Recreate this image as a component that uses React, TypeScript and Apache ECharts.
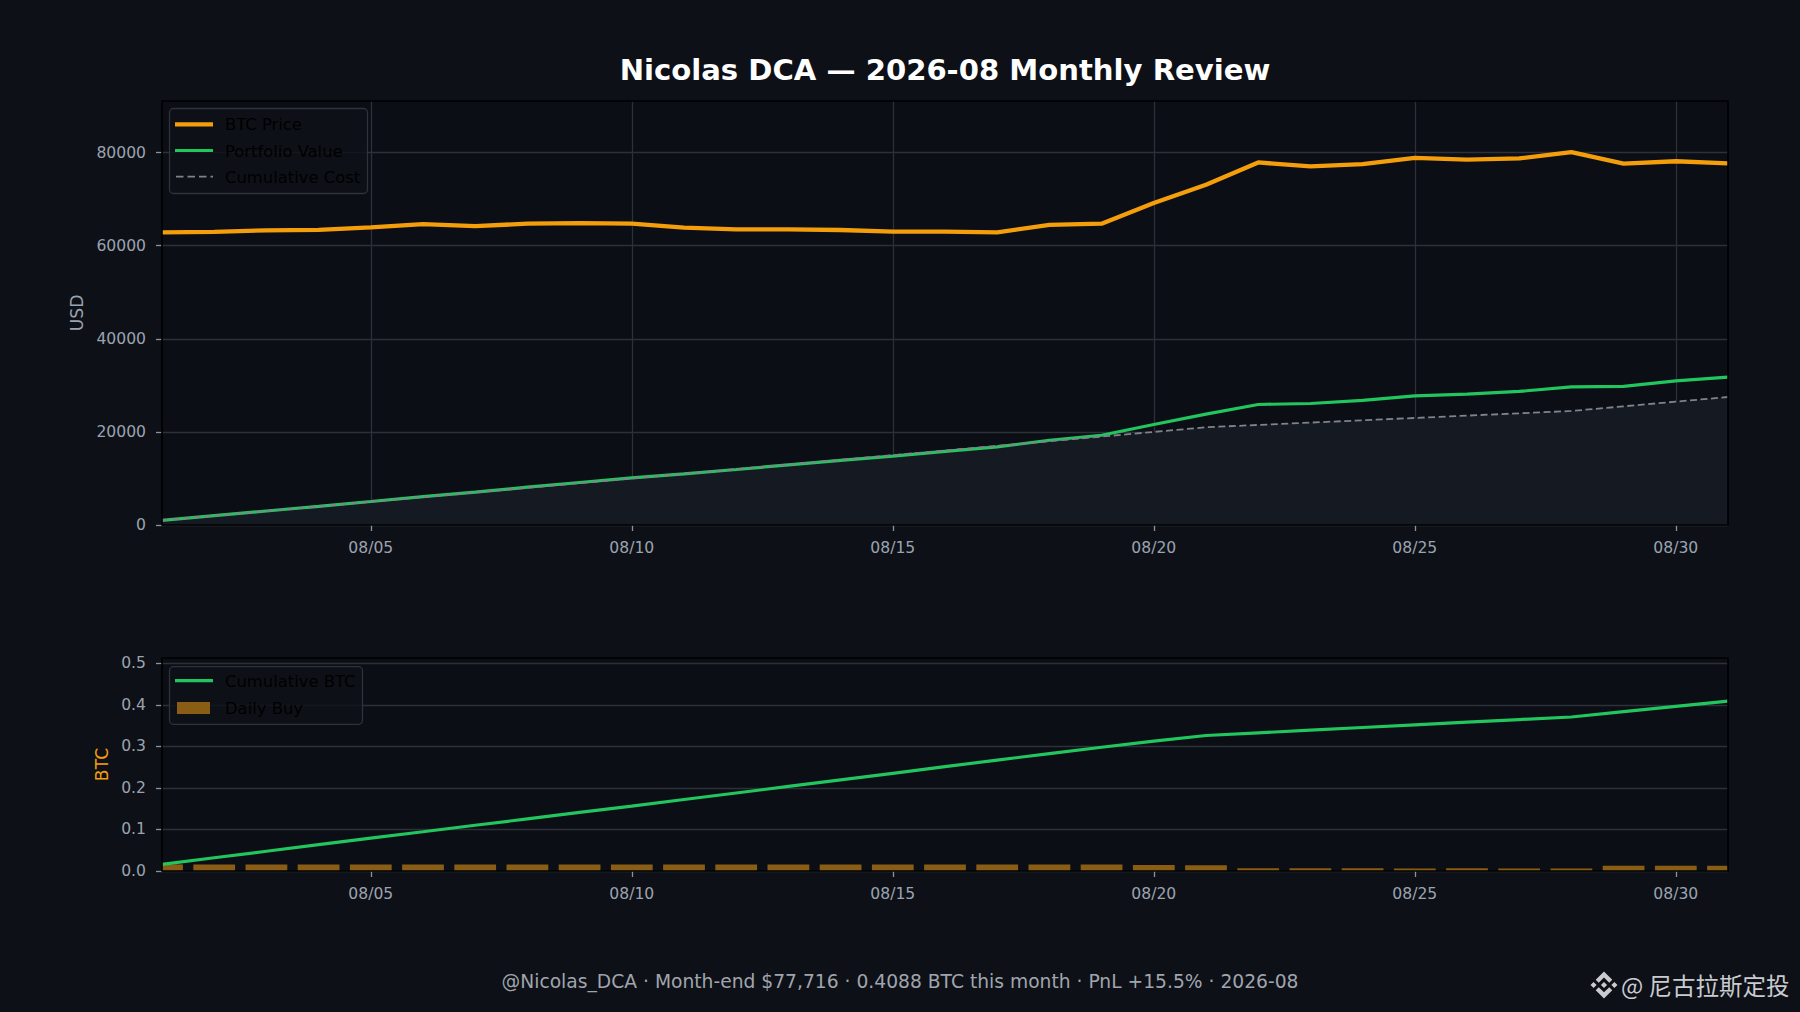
import React, { useEffect, useRef } from "react";
import * as echarts from "echarts";

const dates = [
  "08/01", "08/02", "08/03", "08/04", "08/05", "08/06", "08/07", "08/08", "08/09", "08/10",
  "08/11", "08/12", "08/13", "08/14", "08/15", "08/16", "08/17", "08/18", "08/19", "08/20",
  "08/21", "08/22", "08/23", "08/24", "08/25", "08/26", "08/27", "08/28", "08/29", "08/30", "08/31",
];
const xTickLabels = ["08/05", "08/10", "08/15", "08/20", "08/25", "08/30"];

const btcPrice = [
  62870, 63000, 63300, 63430, 63950, 64650, 64230, 64740, 64860, 64740,
  63880, 63510, 63510, 63380, 63020, 63020, 62890, 64490, 64740, 69170,
  73100, 77900, 77050, 77540, 78900, 78520, 78770, 80120, 77660, 78150, 77716,
];
const portfolioValue = [
  1000, 2002, 3012, 4018, 5054, 6105, 7067, 8121, 9136, 10120,
  10985, 11921, 12921, 13895, 14816, 15816, 16783, 18210, 19281, 21600,
  23828, 25892, 26110, 26776, 27745, 28112, 28701, 29693, 29776, 30963, 31770,
];
const cumulativeCost = [
  1000, 2000, 3000, 4000, 5000, 6000, 7000, 8000, 9000, 10000,
  11000, 12000, 13000, 14000, 15000, 16000, 17000, 18000, 19000, 20000,
  21000, 21500, 22000, 22500, 23000, 23500, 24000, 24500, 25500, 26500, 27500,
];
const cumulativeBtc = [
  0.0159, 0.0318, 0.0476, 0.0633, 0.079, 0.0944, 0.11, 0.1254, 0.1409, 0.1563,
  0.172, 0.1877, 0.2035, 0.2192, 0.2351, 0.251, 0.2669, 0.2824, 0.2978, 0.3123,
  0.326, 0.3324, 0.3389, 0.3453, 0.3517, 0.358, 0.3644, 0.3706, 0.3834, 0.3962, 0.4088,
];
const dailyBuy = [
  0.0159, 0.0159, 0.0158, 0.0158, 0.0156, 0.0155, 0.0156, 0.0154, 0.0154, 0.0154,
  0.0157, 0.0157, 0.0157, 0.0158, 0.0159, 0.0159, 0.0159, 0.0155, 0.0154, 0.0145,
  0.0137, 0.0064, 0.0065, 0.0064, 0.0063, 0.0064, 0.0063, 0.0062, 0.0128, 0.0128, 0.0126,
];
const usdTicks = [0, 20000, 40000, 60000, 80000];
const btcTicks = [0, 0.1, 0.2, 0.3, 0.4, 0.5];

const TITLE = "Nicolas DCA — 2026-08 Monthly Review";
const FOOTER = "@Nicolas_DCA · Month-end $77,716 · 0.4088 BTC this month · PnL +15.5% · 2026-08";
const WATERMARK = "@ 尼古拉斯定投";

const LOGO_D =
  "M38.73 53.2 L63.3 28.64 L87.89 53.22 L102.19 38.92 L63.3 0 L24.43 38.9 Z " +
  "M0 63.31 L14.3 49 L28.6 63.3 L14.3 77.61 Z " +
  "M38.73 73.41 L63.3 98 L87.89 73.4 L102.19 87.69 L63.3 126.61 L24.42 87.73 Z " +
  "M98 63.31 L112.3 49 L126.6 63.3 L112.3 77.61 Z " +
  "M77.83 63.3 L63.3 48.76 L48.78 63.27 L63.3 77.83 Z";
echarts.graphic.registerShape("binanceLogo", echarts.graphic.extendPath(LOGO_D, {}));

const FONT = "DejaVu Sans";
const FIG_BG = "#0d1017";
const PLOT_BG = "#0b0e15";
const GRID_C = "#2c3038";
const TICK_C = "#8e939b";
const LABEL_C = "#9ca3af";
const ORANGE = "#f59e0b";
const GREEN = "#22c55e";
const GRAY = "#7f838b";
const BAR_C = "#8a5d14";

const G1 = { left: 162, top: 101, width: 1566, height: 424 };
const G2 = { left: 162, top: 658, width: 1566, height: 213 };

const isTick = (_i: number, v: string) => xTickLabels.indexOf(v) >= 0;

function xAxis(gridIndex: number, vSplit: boolean) {
  return {
    type: "category",
    gridIndex,
    data: dates,
    boundaryGap: false,
    axisLine: { show: false },
    axisTick: { show: true, interval: isTick, length: 6, lineStyle: { color: TICK_C, width: 1.3 } },
    axisLabel: {
      interval: isTick,
      color: LABEL_C,
      fontSize: 15.6,
      fontFamily: FONT,
      margin: 15,
    },
    splitLine: { show: vSplit, interval: isTick, lineStyle: { color: GRID_C, width: 1.3 } },
  };
}

function renderBar(params: any, api: any) {
  const idx = api.value(0);
  const v = api.value(1);
  const top = api.coord([idx, v]);
  const base = api.coord([idx, 0]);
  const bw = api.size([1, 0])[0] * 0.8;
  const cs = params.coordSys;
  const rect = echarts.graphic.clipRectByRect(
    { x: top[0] - bw / 2, y: top[1], width: bw, height: base[1] - top[1] },
    { x: cs.x, y: cs.y, width: cs.width, height: cs.height }
  );
  if (!rect) return null;
  return { type: "rect", shape: rect, style: { fill: BAR_C } };
}

export default function App() {
  const ref = useRef<HTMLDivElement>(null);
  useEffect(() => {
    document.body.style.margin = "0";
    document.body.style.background = FIG_BG;
    const chart = echarts.init(ref.current!, undefined, { renderer: "svg" });
    const legendText = (x: number, y: number, text: string) => ({
      type: "text",
      z: 101,
      x,
      y,
      style: { text, fill: "#000000", fontSize: 16.4, fontFamily: FONT, textAlign: "left", textVerticalAlign: "middle", verticalAlign: "middle" },
    });
    const option: any = {
      animation: false,
      backgroundColor: FIG_BG,
      textStyle: { fontFamily: FONT },
      grid: [
        { ...G1, show: true, backgroundColor: PLOT_BG, borderWidth: 0 },
        { ...G2, show: true, backgroundColor: PLOT_BG, borderWidth: 0 },
      ],
      xAxis: [xAxis(0, true), xAxis(1, false)],
      yAxis: [
        {
          type: "value",
          gridIndex: 0,
          min: 0,
          max: 91100,
          interval: 20000,
          name: "USD",
          nameLocation: "middle",
          nameGap: 71,
          nameTextStyle: { color: LABEL_C, fontSize: 17.2, fontFamily: FONT },
          axisLine: { show: false },
          axisTick: { show: true, length: 6, customValues: usdTicks, lineStyle: { color: TICK_C, width: 1.3 } },
          axisLabel: {
            color: LABEL_C,
            fontSize: 15.6,
            fontFamily: FONT,
            margin: 16,
            customValues: usdTicks,
            formatter: (v: number) => String(Math.round(v)),
          },
          splitLine: { show: true, lineStyle: { color: GRID_C, width: 1.3 } },
        },
        {
          type: "value",
          gridIndex: 1,
          min: 0,
          max: 0.5125,
          interval: 0.1,
          name: "BTC",
          nameLocation: "middle",
          nameGap: 49,
          nameTextStyle: { color: ORANGE, fontSize: 17.2, fontFamily: FONT },
          axisLine: { show: false },
          axisTick: { show: true, length: 6, customValues: btcTicks, lineStyle: { color: TICK_C, width: 1.3 } },
          axisLabel: {
            color: LABEL_C,
            fontSize: 15.6,
            fontFamily: FONT,
            margin: 16,
            customValues: btcTicks,
            formatter: (v: number) => v.toFixed(1),
          },
          splitLine: { show: true, lineStyle: { color: GRID_C, width: 1.3 } },
        },
      ],
      series: [
        {
          name: "Cost Area",
          type: "line",
          xAxisIndex: 0,
          yAxisIndex: 0,
          data: cumulativeCost,
          showSymbol: false,
          silent: true,
          z: 1,
          lineStyle: { width: 0, opacity: 0 },
          areaStyle: { color: "#151922", opacity: 1 },
        },
        {
          name: "BTC Price",
          type: "line",
          xAxisIndex: 0,
          yAxisIndex: 0,
          data: btcPrice,
          showSymbol: false,
          silent: true,
          z: 3,
          lineStyle: { color: ORANGE, width: 4.3 },
        },
        {
          name: "Portfolio Value",
          type: "line",
          xAxisIndex: 0,
          yAxisIndex: 0,
          data: portfolioValue,
          showSymbol: false,
          silent: true,
          z: 3,
          lineStyle: { color: GREEN, width: 3.2 },
        },
        {
          name: "Cumulative Cost",
          type: "line",
          xAxisIndex: 0,
          yAxisIndex: 0,
          data: cumulativeCost,
          showSymbol: false,
          silent: true,
          z: 4,
          lineStyle: { color: GRAY, width: 1.8, type: [7, 3.5] },
        },
        {
          name: "Daily Buy",
          type: "custom",
          xAxisIndex: 1,
          yAxisIndex: 1,
          data: dailyBuy.map((v, i) => [i, v]),
          renderItem: renderBar,
          encode: { x: 0, y: 1 },
          silent: true,
          z: 2,
        },
        {
          name: "Cumulative BTC",
          type: "line",
          xAxisIndex: 1,
          yAxisIndex: 1,
          data: cumulativeBtc,
          showSymbol: false,
          silent: true,
          z: 3,
          lineStyle: { color: GREEN, width: 3.2 },
        },
      ],
      graphic: [
        { type: "rect", z: 50, silent: true, shape: { x: G1.left, y: G1.top, width: G1.width, height: G1.height }, style: { fill: "rgba(0,0,0,0)", stroke: "#000000", lineWidth: 1.6 } },
        { type: "rect", z: 50, silent: true, shape: { x: G2.left, y: G2.top, width: G2.width, height: G2.height }, style: { fill: "rgba(0,0,0,0)", stroke: "#000000", lineWidth: 1.6 } },
        { type: "rect", z: 100, silent: true, shape: { x: 169.5, y: 108.5, width: 198, height: 85, r: 4 }, style: { fill: "rgba(14,17,24,0.8)", stroke: "#2e323a", lineWidth: 1.3 } },
        { type: "line", z: 101, silent: true, shape: { x1: 175, y1: 124.3, x2: 213, y2: 124.3 }, style: { stroke: ORANGE, lineWidth: 4.3 } },
        legendText(225, 124.8, "BTC Price"),
        { type: "line", z: 101, silent: true, shape: { x1: 175, y1: 150.5, x2: 213, y2: 150.5 }, style: { stroke: GREEN, lineWidth: 3.2 } },
        legendText(225, 151, "Portfolio Value"),
        { type: "line", z: 101, silent: true, shape: { x1: 176, y1: 176.7, x2: 213, y2: 176.7 }, style: { stroke: GRAY, lineWidth: 1.8, lineDash: [7.5, 4] } },
        legendText(225, 177.2, "Cumulative Cost"),
        { type: "rect", z: 100, silent: true, shape: { x: 169.5, y: 666.7, width: 193, height: 57.6, r: 4 }, style: { fill: "rgba(14,17,24,0.8)", stroke: "#2e323a", lineWidth: 1.3 } },
        { type: "line", z: 101, silent: true, shape: { x1: 175, y1: 680.7, x2: 213, y2: 680.7 }, style: { stroke: GREEN, lineWidth: 3.2 } },
        legendText(225, 681.2, "Cumulative BTC"),
        { type: "rect", z: 101, silent: true, shape: { x: 177, y: 702, width: 33, height: 12 }, style: { fill: BAR_C } },
        legendText(225, 708.5, "Daily Buy"),
        {
          type: "text",
          z: 100,
          x: 945,
          y: 70,
          style: { text: TITLE, fill: "#ffffff", fontSize: 29.1, fontWeight: "bold", fontFamily: FONT, textAlign: "center", textVerticalAlign: "middle", verticalAlign: "middle" },
        },
        {
          type: "text",
          z: 100,
          x: 900,
          y: 981,
          style: { text: FOOTER, fill: "#a0a5ad", fontSize: 18.7, fontFamily: FONT, textAlign: "center", textVerticalAlign: "middle", verticalAlign: "middle" },
        },
        {
          type: "binanceLogo",
          z: 100,
          x: 1590.5,
          y: 971.5,
          scaleX: 27 / 126.6,
          scaleY: 27 / 126.6,
          style: { fill: "#c9cbcf" },
        },
        {
          type: "text",
          z: 100,
          x: 1621,
          y: 985,
          style: { text: WATERMARK, fill: "#c9cbcf", fontSize: 23.5, fontFamily: "Noto Sans CJK SC", textAlign: "left", textVerticalAlign: "middle", verticalAlign: "middle" },
        },
      ],
    };
    chart.setOption(option);
    return () => chart.dispose();
  }, []);
  return <div ref={ref} style={{ width: 1800, height: 1012, background: FIG_BG }} />;
}
